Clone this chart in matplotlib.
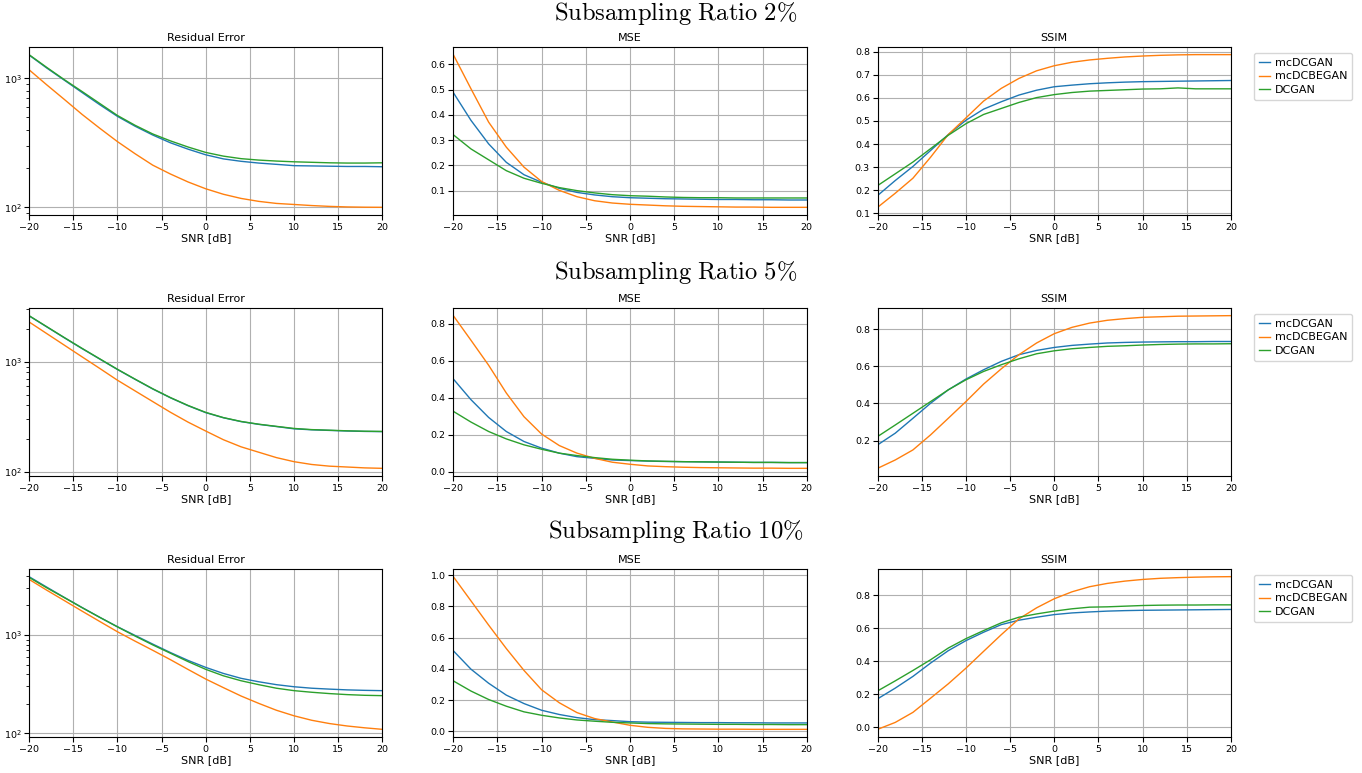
"""Courbes Residual Error / MSE / SSIM en fonction du SNR pour trois taux de sous-échantillonnage."""

import matplotlib
import matplotlib.pyplot as plt

matplotlib.use("Agg")

plt.rcParams.update({
    "font.family": "DejaVu Sans",
    "mathtext.fontset": "cm",
    "axes.titlesize": 8,
    "axes.labelsize": 8,
    "xtick.labelsize": 6.8,
    "ytick.labelsize": 6.8,
    "legend.fontsize": 8,
    "lines.linewidth": 1.0,
})

snr = [-20, -18, -16, -14, -12, -10, -8, -6, -4, -2, 0, 2, 4, 6, 8, 10, 12, 14, 16, 18, 20]
models = ["mcDCGAN", "mcDCBEGAN", "DCGAN"]
ratios = ["2", "5", "10"]
metrics = ["Residual Error", "MSE", "SSIM"]
colors = ["#1f77b4", "#ff7f0e", "#2ca02c"]

# --- Subsampling 2 % ---
res2_mcdcgan = [1515, 1202, 966, 776, 624, 507, 425, 363, 316, 282, 255, 237, 227, 220, 215, 210, 209, 208, 207, 207, 206]
res2_mcdcbegan = [1165, 890, 685, 525, 410, 323, 260, 212, 181, 157, 139, 126, 117, 111, 107, 105, 103, 101.5, 100.5, 100, 99.8]
res2_dcgan = [1525, 1215, 975, 790, 638, 515, 432, 370, 327, 293, 266, 249, 238, 232, 228, 225, 223, 221, 220, 220, 221]

mse2_mcdcgan = [0.488, 0.378, 0.285, 0.212, 0.163, 0.133, 0.109, 0.093, 0.083, 0.076, 0.072, 0.070, 0.068, 0.067, 0.066, 0.065, 0.065, 0.064, 0.064, 0.063, 0.063]
mse2_mcdcbegan = [0.638, 0.503, 0.371, 0.272, 0.193, 0.136, 0.101, 0.076, 0.060, 0.051, 0.046, 0.043, 0.040, 0.038, 0.037, 0.036, 0.035, 0.035, 0.034, 0.034, 0.034]
mse2_dcgan = [0.321, 0.265, 0.222, 0.179, 0.149, 0.129, 0.112, 0.100, 0.091, 0.084, 0.080, 0.078, 0.075, 0.073, 0.072, 0.072, 0.071, 0.071, 0.071, 0.071, 0.071]

ssim2_mcdcgan = [0.177, 0.242, 0.303, 0.372, 0.441, 0.503, 0.551, 0.583, 0.612, 0.633, 0.648, 0.655, 0.661, 0.665, 0.668, 0.670, 0.671, 0.672, 0.673, 0.674, 0.675]
ssim2_mcdcbegan = [0.126, 0.187, 0.252, 0.343, 0.441, 0.513, 0.586, 0.641, 0.684, 0.717, 0.739, 0.754, 0.764, 0.771, 0.777, 0.781, 0.784, 0.786, 0.787, 0.787, 0.787]
ssim2_dcgan = [0.220, 0.271, 0.322, 0.380, 0.438, 0.488, 0.528, 0.554, 0.580, 0.601, 0.614, 0.623, 0.629, 0.632, 0.635, 0.638, 0.639, 0.643, 0.639, 0.639, 0.639]

# --- Subsampling 5 % ---
res5_mcdcgan = [2620, 2080, 1652, 1318, 1059, 851, 692, 565, 470, 398, 344, 309, 285, 269, 257, 245, 240, 237, 234, 232, 231]
res5_mcdcbegan = [2306, 1807, 1416, 1109, 870, 680, 543, 434, 347, 282, 234, 195, 168, 150, 134, 123, 116, 112, 110, 108, 107]
res5_dcgan = [2630, 2090, 1660, 1325, 1064, 855, 695, 568, 472, 400, 346, 310, 286, 270, 258, 247, 241, 238, 235, 233, 232]

mse5_mcdcgan = [0.501, 0.389, 0.293, 0.217, 0.163, 0.127, 0.100, 0.081, 0.072, 0.063, 0.060, 0.057, 0.055, 0.054, 0.053, 0.052, 0.051, 0.050, 0.050, 0.049, 0.049]
mse5_mcdcbegan = [0.843, 0.710, 0.575, 0.425, 0.297, 0.203, 0.141, 0.100, 0.072, 0.051, 0.040, 0.031, 0.027, 0.024, 0.022, 0.021, 0.020, 0.019, 0.019, 0.018, 0.018]
mse5_dcgan = [0.326, 0.268, 0.217, 0.177, 0.145, 0.121, 0.100, 0.087, 0.076, 0.067, 0.062, 0.058, 0.056, 0.054, 0.053, 0.052, 0.051, 0.050, 0.050, 0.049, 0.049]

ssim5_mcdcgan = [0.177, 0.240, 0.320, 0.401, 0.473, 0.531, 0.581, 0.626, 0.662, 0.685, 0.701, 0.712, 0.719, 0.725, 0.728, 0.730, 0.731, 0.732, 0.732, 0.733, 0.733]
ssim5_mcdcbegan = [0.051, 0.096, 0.150, 0.231, 0.320, 0.410, 0.504, 0.586, 0.662, 0.725, 0.775, 0.809, 0.832, 0.847, 0.856, 0.863, 0.866, 0.869, 0.870, 0.871, 0.872]
ssim5_dcgan = [0.222, 0.284, 0.347, 0.410, 0.473, 0.527, 0.572, 0.608, 0.640, 0.667, 0.683, 0.694, 0.701, 0.707, 0.710, 0.714, 0.717, 0.719, 0.720, 0.720, 0.721]

# --- Subsampling 10 % ---
res10_mcdcgan = [3920, 3069, 2410, 1905, 1514, 1216, 991, 809, 664, 552, 469, 407, 363, 335, 313, 298, 288, 282, 277, 274, 272]
res10_mcdcbegan = [3681, 2858, 2239, 1750, 1374, 1081, 867, 700, 562, 447, 357, 292, 240, 202, 172, 151, 136, 126, 119, 114, 110]
res10_dcgan = [3855, 3020, 2399, 1897, 1514, 1211, 977, 794, 653, 537, 448, 385, 343, 313, 288, 272, 262, 254, 248, 244, 242]

mse10_mcdcgan = [0.516, 0.398, 0.308, 0.232, 0.178, 0.135, 0.108, 0.088, 0.075, 0.069, 0.062, 0.059, 0.058, 0.057, 0.056, 0.056, 0.055, 0.055, 0.054, 0.054, 0.054]
mse10_mcdcbegan = [0.990, 0.835, 0.680, 0.530, 0.390, 0.266, 0.183, 0.120, 0.082, 0.060, 0.039, 0.026, 0.019, 0.016, 0.015, 0.014, 0.014, 0.013, 0.013, 0.013, 0.013]
mse10_dcgan = [0.323, 0.258, 0.204, 0.161, 0.125, 0.103, 0.086, 0.073, 0.065, 0.058, 0.054, 0.050, 0.048, 0.047, 0.046, 0.045, 0.045, 0.044, 0.044, 0.043, 0.043]

ssim10_mcdcgan = [0.173, 0.238, 0.309, 0.390, 0.465, 0.526, 0.577, 0.623, 0.650, 0.668, 0.684, 0.694, 0.700, 0.705, 0.708, 0.710, 0.711, 0.712, 0.713, 0.714, 0.715]
ssim10_mcdcbegan = [-0.012, 0.030, 0.091, 0.177, 0.264, 0.359, 0.461, 0.562, 0.658, 0.725, 0.780, 0.822, 0.853, 0.873, 0.887, 0.897, 0.904, 0.908, 0.911, 0.913, 0.914]
ssim10_dcgan = [0.221, 0.282, 0.345, 0.410, 0.481, 0.538, 0.587, 0.634, 0.668, 0.688, 0.705, 0.719, 0.729, 0.731, 0.735, 0.739, 0.741, 0.742, 0.742, 0.743, 0.743]

table = [
    [
        [res2_mcdcgan, res2_mcdcbegan, res2_dcgan],
        [mse2_mcdcgan, mse2_mcdcbegan, mse2_dcgan],
        [ssim2_mcdcgan, ssim2_mcdcbegan, ssim2_dcgan],
    ],
    [
        [res5_mcdcgan, res5_mcdcbegan, res5_dcgan],
        [mse5_mcdcgan, mse5_mcdcbegan, mse5_dcgan],
        [ssim5_mcdcgan, ssim5_mcdcbegan, ssim5_dcgan],
    ],
    [
        [res10_mcdcgan, res10_mcdcbegan, res10_dcgan],
        [mse10_mcdcgan, mse10_mcdcbegan, mse10_dcgan],
        [ssim10_mcdcgan, ssim10_mcdcbegan, ssim10_dcgan],
    ],
]

fig, axes = plt.subplots(3, 3, figsize=(13.62, 7.73), dpi=100)
fig.subplots_adjust(left=0.0213, right=0.9038, top=0.9392, bottom=0.0466,
                    wspace=0.2006, hspace=0.554)

row_title_y = [0.982, 0.648, 0.312]

for i, ratio in enumerate(ratios):
    for j, metric in enumerate(metrics):
        ax = axes[i, j]
        for k, model in enumerate(models):
            ax.plot(snr, table[i][j][k], color=colors[k], label=model)
        if j == 0:
            ax.set_yscale("log")
        ax.set_xlim(-20, 20)
        ax.set_title(metric, pad=4)
        ax.set_xlabel("SNR [dB]", labelpad=1)
        ax.grid(True)
        ax.tick_params(pad=2)
        if j == 2:
            ax.legend(loc="upper left", bbox_to_anchor=(1.05, 1.0),
                      handlelength=1.0, handletextpad=0.4, labelspacing=0.35,
                      borderpad=0.45)
    fig.text(0.4963, row_title_y[i],
             r"$\mathrm{Subsampling\ Ratio\ " + ratio + r"\%}$",
             ha="center", va="center", fontsize=17.7)

fig.savefig("out.png", dpi=100)
plt.close(fig)
